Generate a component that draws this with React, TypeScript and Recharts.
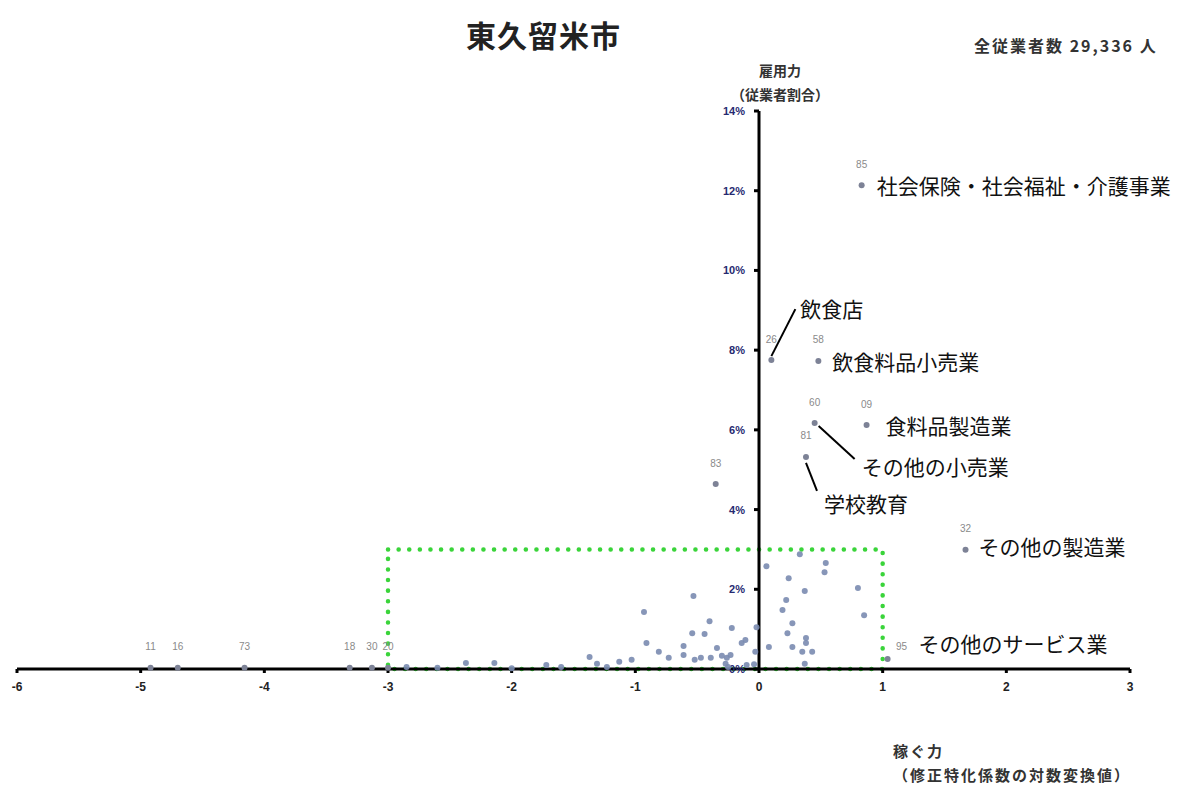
import { ScatterChart, Scatter, XAxis, YAxis, ReferenceLine, ReferenceArea } from "recharts";

const xTicks = [-6, -5, -4, -3, -2, -1, 0, 1, 2, 3];
const yTicks = [0, 2, 4, 6, 8, 10, 12, 14];

// industries with a code label (and some with a name)
const codes = ["85", "58", "26", "60", "09", "81", "83", "32", "95", "11", "16", "73", "18", "30", "20"];
const names = ["社会保険・社会福祉・介護事業", "飲食料品小売業", "飲食店", "その他の小売業", "食料品製造業", "学校教育", "", "その他の製造業", "その他のサービス業", "", "", "", "", "", ""];
const codeX = [0.83, 0.48, 0.1, 0.45, 0.87, 0.38, -0.35, 1.67, 1.04, -4.92, -4.7, -4.16, -3.31, -3.13, -3.0];
const codeY = [12.14, 7.73, 7.75, 6.17, 6.12, 5.32, 4.64, 2.99, 0.25, 0.03, 0.03, 0.03, 0.03, 0.03, 0.03];

// the other industries (no label)
const restX = [0.33, 0.06, 0.24, 0.54, 0.53, 0.37, 0.8, 0.85, 0.22, 0.19, 0.27, 0.23, 0.08, 0.27, 0.38, 0.38, 0.35, 0.43, 0.37,
  -0.02, -0.03, -0.53, -0.93, -0.91, -0.4, -0.54, -0.44, -0.22, -0.81, -0.61, -0.34, -0.14, -0.11, -0.73, -0.61, -0.52, -0.47,
  -0.39, -0.3, -0.26, -0.27, -0.23, -0.04, -1.37, -1.31, -1.13, -1.03, -1.23, -2.85, -2.37, -2.14, -2.0, -1.72, -1.6, -2.6, -0.25, -0.1];
const restY = [2.88, 2.58, 2.28, 2.66, 2.43, 1.96, 2.03, 1.35, 1.73, 1.48, 1.15, 0.9, 0.55, 0.55, 0.78, 0.65, 0.43, 0.43, 0.13,
  1.05, 0.43, 1.83, 1.43, 0.65, 1.2, 0.9, 0.88, 1.03, 0.43, 0.58, 0.53, 0.65, 0.73, 0.28, 0.35, 0.23, 0.28,
  0.28, 0.33, 0.28, 0.13, 0.35, 0.12, 0.3, 0.13, 0.18, 0.23, 0.05, 0.05, 0.15, 0.15, 0.02, 0.1, 0.05, 0.03, 0.05, 0.1];

const labeled = codes.map((c, i) => ({ code: c, name: names[i], x: codeX[i], y: codeY[i] }));
const rest = restX.map((x, i) => ({ x, y: restY[i] }));
const tickPts = yTicks.map((t) => ({ x: 0, y: t }));

// where each name / code label sits relative to its dot
const nameLayout: Record<string, { dx: number; dy: number; leader?: number[] }> = {
  "85": { dx: 15, dy: 0 },
  "58": { dx: 14, dy: 0 },
  "26": { dx: 29, dy: -52, leader: [0, -4, 24, -51] },
  "60": { dx: 47, dy: 43, leader: [4, 3, 40, 36] },
  "09": { dx: 19, dy: 0 },
  "81": { dx: 18, dy: 46, leader: [0, 6, 11, 34] },
  "32": { dx: 13, dy: -4 },
  "95": { dx: 31, dy: -16 },
};
const codeOffset: Record<string, number[]> = { "95": [14, -13] };

const JP = "'Noto Sans CJK JP', sans-serif";

const LabeledDot = (p: any) => {
  const { cx, cy, payload } = p;
  const lay = nameLayout[payload.code];
  const off = codeOffset[payload.code] || [0, -21];
  return (
    <g>
      <circle cx={cx} cy={cy} r={3} fill="#7d8296" />
      <text x={cx + off[0]} y={cy + off[1]} textAnchor="middle" dominantBaseline="central" fontSize={10} fill="#8a8a8a" fontFamily="'Liberation Sans', sans-serif">{payload.code}</text>
      {lay && payload.name && (
        <text x={cx + lay.dx} y={cy + lay.dy} dominantBaseline="central" fontSize={21} fill="#111" fontFamily={JP}>{payload.name}</text>
      )}
      {lay?.leader && (
        <line x1={cx + lay.leader[0]} y1={cy + lay.leader[1]} x2={cx + lay.leader[2]} y2={cy + lay.leader[3]} stroke="#000" strokeWidth={2} />
      )}
    </g>
  );
};

const SmallDot = (p: any) => <circle cx={p.cx} cy={p.cy} r={3} fill="#7a8bb0" fillOpacity={0.9} />;

const YTick = (p: any) => (
  <g>
    <line x1={p.cx - 5} y1={p.cy} x2={p.cx} y2={p.cy} stroke="#000" strokeWidth={3} />
    <text x={p.cx - 14} y={p.cy} textAnchor="end" dominantBaseline="central" fontSize={11} fontWeight="bold" fill="#262a70" fontFamily="'Liberation Sans', sans-serif">{`${p.payload.y}%`}</text>
  </g>
);

export default function App() {
  return (
    <div style={{ position: "absolute", left: 0, top: 0, width: 1182, height: 789, background: "#fff", fontFamily: JP }}>
      <div style={{ position: "absolute", left: 466, top: 12, fontSize: 30, fontWeight: 700, color: "#222", letterSpacing: 1 }}>東久留米市</div>
      <div style={{ position: "absolute", left: 974, top: 33, fontSize: 16, fontWeight: 700, color: "#333", letterSpacing: 2, whiteSpace: "nowrap" }}>全従業者数 29,336 人</div>
      <div style={{ position: "absolute", left: 730, top: 58, width: 100, textAlign: "center", fontSize: 14, fontWeight: 700, color: "#333", lineHeight: "24px" }}>
        雇用力<br />（従業者割合）
      </div>
      <div style={{ position: "absolute", left: 893, top: 739, fontSize: 15, fontWeight: 700, color: "#333", lineHeight: "24px", letterSpacing: 2, whiteSpace: "nowrap" }}>
        稼ぐ力<br />（修正特化係数の対数変換値）
      </div>
      <ScatterChart width={1182} height={789} margin={{ top: 111, right: 52, bottom: 90, left: 17 }} style={{ position: "absolute", left: 0, top: 0 }}>
        <XAxis type="number" dataKey="x" domain={[-6, 3]} ticks={xTicks} height={30} tickSize={4} tickMargin={9}
          axisLine={{ stroke: "#000", strokeWidth: 3 }} tickLine={{ stroke: "#000", strokeWidth: 3 }}
          tick={{ fontSize: 12, fontWeight: "bold", fill: "#222", fontFamily: "'Liberation Sans', sans-serif" }} />
        <YAxis type="number" dataKey="y" domain={[0, 14]} hide />
        <ReferenceLine x={0} stroke="#000" strokeWidth={3} />
        <ReferenceArea x1={-3} x2={1} y1={0} y2={3} fill="none" fillOpacity={0} stroke="#3ad43a" strokeWidth={4.5} strokeDasharray="0.1 10.5" strokeLinecap="round" />
        <Scatter data={tickPts} shape={YTick} isAnimationActive={false} />
        <Scatter data={rest} shape={SmallDot} isAnimationActive={false} />
        <Scatter data={labeled} shape={LabeledDot} isAnimationActive={false} />
      </ScatterChart>
    </div>
  );
}
